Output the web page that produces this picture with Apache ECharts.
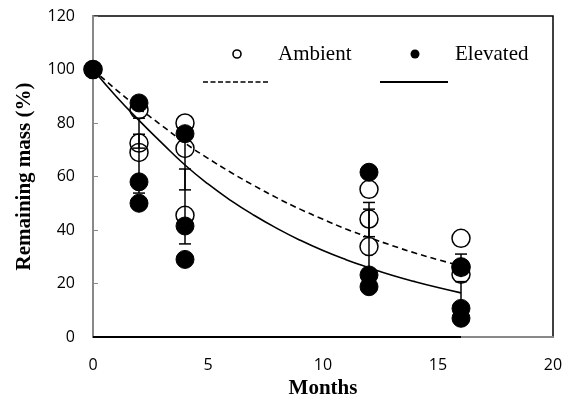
<!DOCTYPE html>
<html>
<head>
<meta charset="utf-8">
<script src="https://cdn.jsdelivr.net/npm/echarts@6/dist/echarts.min.js"></script>
<style>html,body{margin:0;padding:0;background:#fff;}#c{width:566px;height:398px;}</style>
</head>
<body>
<div id="c"></div>
<script>
// ---- data ----
var xTicks = [0, 5, 10, 15, 20];
var yTicks = [0, 20, 40, 60, 80, 100, 120];

// individual replicate values [month, remaining mass %]
var ambientPoints = [
  [0, 100],
  [2, 85], [2, 72.5], [2, 69],
  [4, 80], [4, 70.5], [4, 45.5],
  [12, 55.2], [12, 44.1], [12, 33.8],
  [16, 36.9], [16, 26], [16, 23.5]
];
var elevatedPoints = [
  [0, 100],
  [2, 87.5], [2, 58], [2, 50],
  [4, 76], [4, 41.5], [4, 29],
  [12, 61.6], [12, 23.2], [12, 18.8],
  [16, 26.3], [16, 10.7], [16, 7.0]
];

// means and standard errors [month, mean, se]
var ambientMeanSE = [[0, 100, 0], [2, 76.2, 5.6], [4, 65, 10], [12, 43.9, 6.4], [16, 27.5, 3.5]];
var elevatedMeanSE = [[0, 100, 0], [2, 64.8, 11], [4, 48.8, 14], [12, 34.4, 13.4], [16, 14.7, 6]];

// fitted curves
var curveMonths = [0, 1, 2, 3, 4, 5, 6, 7, 8, 9, 10, 11, 12, 13, 14, 15, 16];
var ambientFit = [100, 92.5, 85.5, 79, 72.5, 66.8, 61.5, 56.6, 52, 47.8, 44, 40.4, 37.2, 34.2, 31.4, 28.9, 26.6];
var elevatedFit = [100, 90, 81, 72.5, 64.3, 57.2, 51, 45.5, 40.6, 36.2, 32.3, 28.9, 25.9, 23.1, 20.7, 18.5, 16.5];

var baseline = [[0, 0], [16, 0]];

function pairs(xs, ys) { return xs.map(function (x, i) { return [x, ys[i]]; }); }

function errorBarRender(params, api) {
  var x = api.value(0), m = api.value(1), se = api.value(2);
  var top = api.coord([x, m + se]);
  var bot = api.coord([x, m - se]);
  var hw = 6;
  var st = { stroke: '#000', lineWidth: 1.5 };
  return {
    type: 'group',
    children: [
      { type: 'line', shape: { x1: top[0], y1: top[1], x2: bot[0], y2: bot[1] }, style: st },
      { type: 'line', shape: { x1: top[0] - hw, y1: top[1], x2: top[0] + hw, y2: top[1] }, style: st },
      { type: 'line', shape: { x1: bot[0] - hw, y1: bot[1], x2: bot[0] + hw, y2: bot[1] }, style: st }
    ]
  };
}

var chart = echarts.init(document.getElementById('c'));
var tickFont = { fontFamily: 'Open Sans', fontSize: 16, color: '#000' };
var titleFont = { fontFamily: 'Liberation Serif', fontSize: 21, fontWeight: 'bold', color: '#000' };

chart.setOption({
  animation: false,
  backgroundColor: '#fff',
  grid: { left: 93, right: 13, top: 16, bottom: 61, outerBoundsMode: 'none', containLabel: false,
    show: true, borderColor: '#000', borderWidth: 1.5, backgroundColor: 'transparent' },
  xAxis: {
    type: 'value', min: xTicks[0], max: xTicks[xTicks.length - 1], interval: 5,
    name: 'Months', nameLocation: 'middle', nameGap: 35, nameTextStyle: titleFont,
    axisLine: { show: true, onZero: false, lineStyle: { color: '#888', width: 2 } },
    axisTick: { show: false },
    splitLine: { show: false },
    axisLabel: Object.assign({ margin: 20 }, tickFont)
  },
  yAxis: {
    type: 'value', min: yTicks[0], max: yTicks[yTicks.length - 1], interval: 20,
    name: 'Remaining mass (%)', nameLocation: 'middle', nameGap: 58, nameTextStyle: titleFont,
    axisLine: { show: true, lineStyle: { color: '#888', width: 2 } },
    axisTick: { show: true, inside: true, length: 5, lineStyle: { color: '#888', width: 1 } },
    splitLine: { show: false },
    axisLabel: Object.assign({ margin: 18 }, tickFont)
  },
  series: [
    { type: 'line', data: baseline, symbol: 'none', lineStyle: { color: '#000', width: 2 }, z: 3, silent: true },
    { type: 'line', name: 'Ambient fit', data: pairs(curveMonths, ambientFit), smooth: true, symbol: 'none',
      lineStyle: { color: '#000', width: 1.6, type: [6, 4] }, z: 2, silent: true },
    { type: 'line', name: 'Elevated fit', data: pairs(curveMonths, elevatedFit), smooth: true, symbol: 'none',
      lineStyle: { color: '#000', width: 1.6 }, z: 2, silent: true },
    { type: 'custom', data: ambientMeanSE, renderItem: errorBarRender, z: 4, silent: true },
    { type: 'custom', data: elevatedMeanSE, renderItem: errorBarRender, z: 4, silent: true },
    { type: 'scatter', name: 'Ambient', data: ambientPoints, symbol: 'circle', symbolSize: 18, z: 5, silent: true,
      itemStyle: { color: 'rgba(0,0,0,0)', borderColor: '#000', borderWidth: 1.5, opacity: 1 } },
    { type: 'scatter', name: 'Elevated', data: elevatedPoints, symbol: 'circle', symbolSize: 18, z: 6, silent: true,
      itemStyle: { color: '#000', borderColor: '#000', borderWidth: 1, opacity: 1 } }
  ],
  graphic: [
    { type: 'circle', shape: { cx: 237, cy: 54, r: 4 }, style: { fill: 'none', stroke: '#000', lineWidth: 1.6 }, z: 10 },
    { type: 'text', x: 278, y: 54, style: { text: 'Ambient', font: '21px "Liberation Serif"', fill: '#000', verticalAlign: 'middle' }, z: 10 },
    { type: 'circle', shape: { cx: 415, cy: 54, r: 4.5 }, style: { fill: '#000' }, z: 10 },
    { type: 'text', x: 455, y: 54, style: { text: 'Elevated', font: '21px "Liberation Serif"', fill: '#000', verticalAlign: 'middle' }, z: 10 },
    { type: 'line', shape: { x1: 203, y1: 82, x2: 270, y2: 82 }, style: { stroke: '#000', lineWidth: 1.6, lineDash: [5, 2.5] }, z: 10 },
    { type: 'line', shape: { x1: 380, y1: 82, x2: 448, y2: 82 }, style: { stroke: '#000', lineWidth: 2 }, z: 10 }
  ]
});
</script>
</body>
</html>
